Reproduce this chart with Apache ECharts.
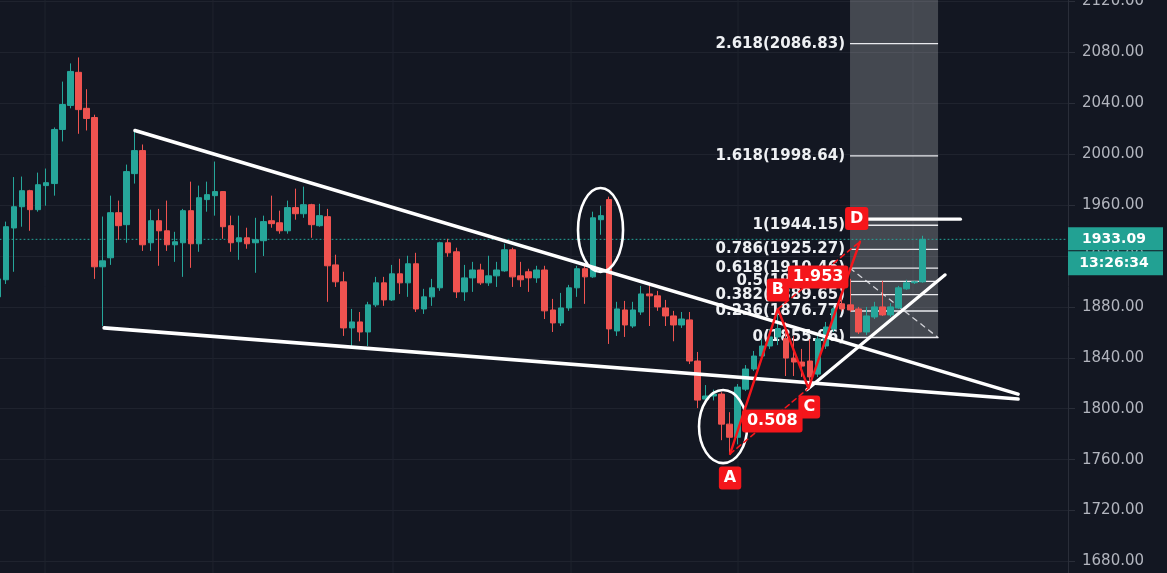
<!DOCTYPE html>
<html>
<head>
<meta charset="utf-8">
<script src="https://cdn.jsdelivr.net/npm/echarts@6/dist/echarts.min.js"></script>
<style>
html,body{margin:0;padding:0;background:#131722;overflow:hidden;}
#chart{width:1167px;height:573px;}
</style>
</head>
<body>
<div id="chart"></div>
<script>
// ---- candle data (OHLC), one entry per bar ----
const opens = [1887.9,1901.3,1942,1958.7,1971.3,1956.4,1975.3,1976.9,2019.4,2038.3,
 2064.3,2036,2028.8,1911.5,1918.6,1954,1944.6,1984.7,2002.8,1930.4,
 1947.7,1939.8,1928.8,1930.4,1955.6,1929.6,1964.3,1967.4,1970.6,1943.8,
 1931.2,1934.3,1930.4,1932,1947.7,1946.1,1939.8,1958,1953.2,1960.3,
 1943.8,1950.9,1913,1899.7,1863.5,1868.2,1860.3,1881.6,1898.9,1885.5,
 1906,1898.9,1913.9,1878.4,1887.9,1895,1930.4,1923.3,1891.8,1902.8,
 1909,1898.9,1904.4,1908.3,1924.9,1904.4,1907.6,1902.8,1909,1877.6,
 1867.4,1879.2,1895,1910,1903.6,1948.5,1964.3,1861.1,1877.6,1865,
 1876,1890.2,1888.7,1879.2,1872.9,1865.8,1869.8,1837.5,1807.6,1810,
 1811.5,1787.9,1777.6,1815.4,1831.2,1841.4,1849.3,1856.4,1855,1839.8,
 1836.7,1837.5,1827.2,1849.3,1862.7,1882.4,1881.6,1878.4,1860.3,1872.1,
 1880,1873.7,1879.2,1894.2,1899,1899.7];
const closes = [1902,1943,1958.7,1971.3,1956.4,1976,1977.6,2019.4,2039,2065,
 2035,2028,1911.5,1916.2,1954,1943.8,1986.3,2002.8,1928.8,1947.7,
 1939.8,1928.8,1931.2,1955.6,1929.6,1965.8,1968.2,1970.6,1943,1930.4,
 1934.3,1929.6,1932.8,1947,1945.4,1939.8,1958,1953.2,1960.3,1944.6,
 1951.7,1912.3,1899.7,1863.5,1868.2,1860.3,1881.6,1898.9,1885.5,1906,
 1898.9,1913.9,1878.4,1887.9,1895,1930.4,1922.5,1891.8,1902.8,1909,
 1898.9,1904.4,1909,1924.9,1903.6,1901.3,1902.8,1909,1876.9,1867.4,
 1879.2,1895,1910,1903.6,1950,1951.7,1862.7,1878.4,1865.8,1877.6,
 1890.2,1888.7,1880,1872.9,1865.8,1870.5,1837.5,1806.8,1810,1811.5,
 1787.9,1777.6,1817,1831.2,1841.4,1849.3,1856.4,1863,1839.8,1836.7,
 1833.5,1825,1854.8,1864.2,1878.4,1878.4,1877.6,1860.3,1872.9,1880,
 1873.7,1880,1895,1898.9,1899.7,1933.09];
const lows = [1883,1898,1907.6,1943,1939.8,1954.8,1959.5,1967.4,2010,2036,
 2016,2018.6,1902,1865,1913,1932.8,1930.4,1976.9,1924,1924,
 1912.3,1924,1915.4,1903.6,1910.7,1923.3,1954.8,1951.7,1933.5,1923.3,
 1917,1925.7,1906.8,1920,1942.2,1937.5,1937.5,1948.5,1950,1934.3,
 1943,1884,1895.7,1857.2,1849.3,1853,1849.3,1880,1880.8,1884.7,
 1890.2,1887.9,1876,1874.5,1880.8,1892.6,1919.4,1887,1884.7,1891.8,
 1897.3,1896.5,1895.7,1907.6,1895.7,1895.7,1891.8,1898.9,1870.5,1860.3,
 1865,1876.9,1887.9,1882.4,1902.8,1936.7,1850.9,1857.2,1856.4,1863.5,
 1873.7,1865,1876.9,1865,1853,1863.5,1835.1,1800.5,1806,1806.5,
 1775.3,1765,1772,1813.9,1829.6,1837.5,1847,1850,1825.7,1825.7,
 1825,1818,1825,1847,1860.3,1876.5,1876,1858.7,1858,1870.5,
 1872.9,1872.1,1878.4,1893.4,1898,1899];
const highs = [1906,1947,1982,1982.4,1972,1985.5,1988.7,2021,2057,2071.3,
 2076,2051,2031,1951,1967.4,1963.5,1991.8,2017.8,2007.6,1956.4,
 1957,1963.5,1939,1957,1978.4,1975.3,1978.4,1994.2,1971,1951.7,
 1951.7,1942.2,1950,1951.7,1967.4,1955.6,1963.5,1972.9,1974.5,1961,
 1961,1957,1921,1907.6,1878.4,1876,1884,1903.6,1903.6,1913,
 1917.8,1920.2,1922.5,1894.2,1902,1931.2,1933.5,1926.5,1913,1915.4,
 1913.9,1920.2,1915.4,1929.6,1926.5,1915.4,1910,1912.3,1912.3,1886.3,
 1891,1897.3,1912.3,1913.9,1954.8,1959.5,1966.6,1884,1884.7,1884,
 1896.5,1896.5,1892.6,1885.5,1876.9,1876,1876,1844.6,1818.6,1815,
 1813,1797.3,1819.4,1834.3,1845.4,1854.8,1862.7,1878.4,1868.2,1857.2,
 1847,1854.8,1857,1868.2,1880,1890.2,1902,1880,1880,1884,
 1900.5,1883,1896.5,1901.3,1900.5,1935.9];

// ---- axis ticks / time grid ----
const priceTickStep = 40;
const timeGridBars = [5.85, 26.74, 49.13, 71.27, 92.04, 113.8];
const lastPrice = 1933.09;
const countdownText = '13:26:34';

// ---- drawings (bar index, price) ----
const upperTrend = [[17.04, 2018.6], [126.87, 1811.5]];
const lowerTrend = [[13.2, 1863.5], [126.87, 1807.6]];
const risingTrend = [[100.6, 1815], [117.8, 1905.2]];
const dLevelLine = [[107.5, 1948.9], [119.7, 1948.9]];

const abcdPoints = [[91.05, 1764.5], [97, 1878.4], [100.8, 1816], [107.2, 1931.2]];
const acRatioLine = [[91.05, 1764.5], [100.8, 1816]];
const bdRatioLine = [[97, 1878.4], [107.2, 1931.2]];

const abcdLabelText = ['A', 'B', 'C', 'D', '0.508', '1.953'];
const abcdLabelBar = [91.05, 97, 100.9, 106.8, 96.3, 102];
const abcdLabelPrice = [1745.6, 1893.3, 1801.4, 1949.4, 1790.4, 1903.5];

// fib extension
const fibRatioText = ['0', '0.236', '0.382', '0.5', '0.618', '0.786', '1', '1.618', '2.618'];
const fibPrices = [1855.96, 1876.77, 1889.65, 1900.05, 1910.46, 1925.27, 1944.15, 1998.64, 2086.83];
const fibBarStart = 105.97, fibBarEnd = 116.92;
const fibDiagonal = [[105.97, 1910.46], [116.92, 1855.96]];

// ellipses: [centerBar, centerPrice, radiusBars, radiusPrice]
const ellipseCenterBar = [74.94, 90.18];
const ellipseCenterPrice = [1940.4, 1786];
const ellipseRadiusBar = [2.8, 2.99];
const ellipseRadiusPrice = [33, 28.7];

// ---- build ----
const X_MIN = 0.25, X_MAX = 133.08, Y_MIN = 1640, Y_MAX = 2160;
const candles = opens.map((o, i) => [i, o, closes[i], lows[i], highs[i]]);
const UP = '#26a69a', DOWN = '#ef5350', RED = '#f5161b';
const GRIDC = '#1f232e';

const chart = echarts.init(document.getElementById('chart'), null, {renderer: 'canvas'});

function lineSeries(data, color, width, type, z) {
  return {
    type: 'line', data: data, z: z, symbol: 'none', showSymbol: false, silent: true,
    animation: false, clip: false,
    lineStyle: {color: color, width: width, type: type || 'solid', cap: 'round'}
  };
}

const option = {
  backgroundColor: '#131722',
  animation: false,
  grid: {left: 0, right: 99, top: -49.5, bottom: -39.4, outerBoundsMode: 'none', containLabel: false},
  xAxis: {
    type: 'value', min: X_MIN, max: X_MAX, show: false,
    splitLine: {show: false}
  },
  yAxis: {
    type: 'value', position: 'right', min: Y_MIN, max: Y_MAX, interval: priceTickStep,
    scale: true,
    axisLine: {show: true, lineStyle: {color: '#2a2e39', width: 1}},
    axisTick: {show: true, length: 7, lineStyle: {color: '#2a2e39'}},
    splitLine: {show: true, lineStyle: {color: GRIDC, width: 1}},
    axisLabel: {
      color: '#b2b5be', fontFamily: 'DejaVu Sans', fontSize: 15, margin: 14,
      formatter: v => v.toFixed(2)
    }
  },
  series: [
    // vertical time grid lines
    {
      type: 'custom', z: 0, silent: true, animation: false,
      data: timeGridBars.map(b => [b, Y_MIN]),
      renderItem: (params, api) => {
        const b = timeGridBars[params.dataIndex];
        const p1 = api.coord([b, Y_MIN]), p2 = api.coord([b, Y_MAX]);
        return {type: 'line', shape: {x1: p1[0], y1: p1[1], x2: p2[0], y2: p2[1]},
          style: {stroke: GRIDC, lineWidth: 1}};
      }
    },
    // fib shaded column
    {
      type: 'custom', z: 1, silent: true, animation: false,
      data: [[fibBarStart, fibPrices[0]]],
      renderItem: (params, api) => {
        const p1 = api.coord([fibBarStart, Y_MAX]), p2 = api.coord([fibBarEnd, fibPrices[0]]);
        return {type: 'rect', shape: {x: p1[0], y: p1[1], width: p2[0] - p1[0], height: p2[1] - p1[1]},
          style: {fill: 'rgba(255,255,255,0.21)'}};
      }
    },
    // fib levels + labels
    {
      type: 'custom', z: 1, silent: true, animation: false,
      data: fibPrices.map(p => [fibBarStart, p]),
      renderItem: (params, api) => {
        const i = params.dataIndex;
        const price = fibPrices[i];
        const p1 = api.coord([fibBarStart, price]), p2 = api.coord([fibBarEnd, price]);
        return {type: 'group', children: [
          {type: 'line', shape: {x1: p1[0], y1: p1[1], x2: p2[0], y2: p2[1]},
            style: {stroke: '#e9eaee', lineWidth: 1.3}},
          {type: 'text', style: {text: fibRatioText[i] + '(' + price.toFixed(2) + ')',
            x: p1[0] - 5, y: p1[1], align: 'right', verticalAlign: 'middle',
            fill: '#eef0f3', font: 'bold 15px "DejaVu Sans"'}}
        ]};
      }
    },
    lineSeries(fibDiagonal, 'rgba(235,235,240,0.85)', 1.3, [5, 5], 1),
    // candles
    {
      type: 'candlestick', z: 2, silent: true, animation: false, clip: false,
      data: candles,
      dimensions: ['bar', 'open', 'close', 'lowest', 'highest'],
      encode: {x: 0, y: [1, 2, 3, 4]},
      barWidth: 6,
      itemStyle: {color: UP, color0: DOWN, borderColor: UP, borderColor0: DOWN, borderWidth: 1}
    },
    // last price dotted line
    lineSeries([[X_MIN, lastPrice], [X_MAX, lastPrice]], UP, 1, [1, 3], 2),
    // trend lines
    lineSeries(upperTrend, '#ffffff', 3.6, 'solid', 3),
    lineSeries(lowerTrend, '#ffffff', 3.6, 'solid', 3),
    lineSeries(risingTrend, '#ffffff', 3.2, 'solid', 3),
    lineSeries(dLevelLine, '#ffffff', 3.2, 'solid', 3),
    // ellipses
    {
      type: 'custom', z: 3, silent: true, animation: false,
      data: ellipseCenterBar.map((b, i) => [b, ellipseCenterPrice[i]]),
      renderItem: (params, api) => {
        const i = params.dataIndex;
        const c = api.coord([ellipseCenterBar[i], ellipseCenterPrice[i]]);
        const e = api.coord([ellipseCenterBar[i] + ellipseRadiusBar[i], ellipseCenterPrice[i] + ellipseRadiusPrice[i]]);
        return {type: 'ellipse', shape: {cx: c[0], cy: c[1], rx: Math.abs(e[0] - c[0]), ry: Math.abs(c[1] - e[1])},
          style: {fill: 'none', stroke: '#ffffff', lineWidth: 2.6}};
      }
    },
    // ABCD pattern
    lineSeries(acRatioLine, RED, 1.6, [5, 4], 4),
    lineSeries(bdRatioLine, RED, 1.6, [5, 4], 4),
    lineSeries(abcdPoints, RED, 2.4, 'solid', 4),
    {
      type: 'custom', z: 5, silent: true, animation: false,
      data: abcdLabelBar.map((b, i) => [b, abcdLabelPrice[i]]),
      renderItem: (params, api) => {
        const i = params.dataIndex;
        const c = api.coord([abcdLabelBar[i], abcdLabelPrice[i]]);
        return {type: 'text', style: {text: abcdLabelText[i], x: c[0], y: c[1],
          align: 'center', verticalAlign: 'middle', fill: '#ffffff',
          font: 'bold 16px "DejaVu Sans"', backgroundColor: RED,
          padding: [4, 5, 3, 5], borderRadius: 3}};
      }
    },
    // last price tag on the axis
    {
      type: 'custom', z: 6, silent: true, animation: false,
      data: [[X_MAX, lastPrice]],
      renderItem: (params, api) => {
        const p = api.coord([X_MAX, lastPrice]);
        const x = p[0], y = p[1];
        return {type: 'group', children: [
          {type: 'rect', shape: {x: x, y: y - 12, width: 95, height: 23}, style: {fill: '#22a193'}},
          {type: 'text', style: {text: lastPrice.toFixed(2), x: x + 46, y: y, align: 'center',
            verticalAlign: 'middle', fill: '#ffffff', font: 'bold 14px "DejaVu Sans"'}},
          {type: 'rect', shape: {x: x, y: y + 12, width: 95, height: 24}, style: {fill: '#22a193'}},
          {type: 'text', style: {text: countdownText, x: x + 46, y: y + 24, align: 'center',
            verticalAlign: 'middle', fill: '#ffffff', font: 'bold 14px "DejaVu Sans"'}}
        ]};
      }
    }
  ]
};
chart.setOption(option);
</script>
</body>
</html>
